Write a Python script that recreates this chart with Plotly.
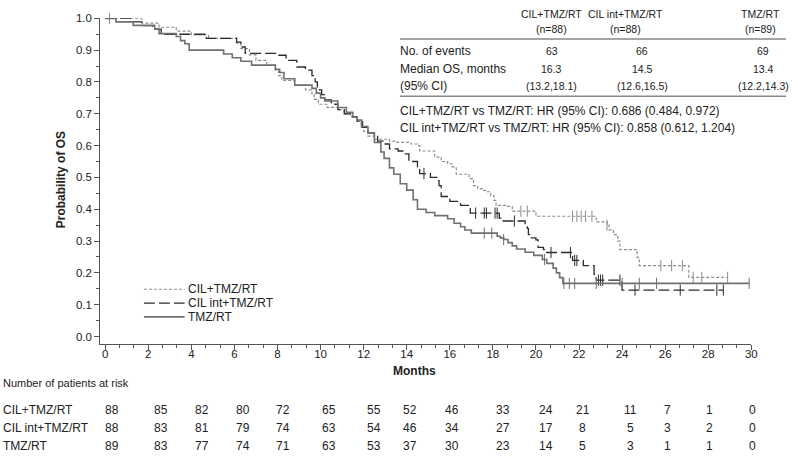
import numpy as np
import plotly.graph_objects as go

W, H = 798, 457

# Kaplan-Meier steps: month of step, survival after step
cil_t = [0, 1.7, 2.5, 3.3, 4.0, 4.8, 6.1, 6.3, 6.7, 7.0, 7.5, 7.9, 8.05, 8.2, 8.8, 9.3, 9.6, 9.7, 9.9,
         10.3, 10.8, 11.1, 11.4, 11.7, 11.9, 12.0, 12.2, 12.5, 13.2, 13.5, 14.2, 14.5, 14.6, 15.3, 15.6,
         15.9, 16.1, 16.3, 16.9, 17.1, 17.3, 17.5, 17.7, 17.9, 18.05, 18.15, 18.6, 18.9, 20.0, 22.8,
         23.3, 23.4, 23.6, 23.8, 23.9, 24.7, 24.8, 27.1, 28.9]
cil_s = [1.0, 0.985, 0.972, 0.96, 0.948, 0.937, 0.922, 0.905, 0.885, 0.868, 0.852, 0.837, 0.82, 0.805,
         0.79, 0.775, 0.76, 0.745, 0.73, 0.72, 0.713, 0.70, 0.69, 0.676, 0.657, 0.645, 0.63, 0.62, 0.614,
         0.61, 0.605, 0.60, 0.583, 0.564, 0.55, 0.543, 0.533, 0.51, 0.496, 0.474, 0.465, 0.459, 0.455,
         0.443, 0.428, 0.412, 0.409, 0.394, 0.378, 0.36, 0.35, 0.335, 0.32, 0.30, 0.273, 0.248, 0.223,
         0.186, 0.186]
cil_cens = [0.2, 19.3, 19.6, 21.7, 21.9, 22.1, 22.3, 22.6, 23.3, 25.8, 26.3, 26.8, 27.3, 27.7, 28.9]

int_t = [0, 1.2, 1.7, 2.2, 2.6, 4.7, 6.1, 6.3, 6.5, 8.0, 8.4, 8.9, 9.3, 9.6, 9.75, 9.85, 9.95, 10.05,
         10.2, 10.5, 10.8, 11.1, 11.4, 11.7, 11.95, 12.2, 12.5, 12.65, 12.9, 13.2, 13.6, 13.9, 14.1,
         14.5, 14.6, 15.1, 15.4, 15.5, 15.6, 16.0, 16.5, 16.9, 16.95, 18.3, 18.4, 19.5, 19.6, 19.65,
         19.7, 20.0, 20.1, 20.35, 20.5, 21.7, 22.2, 22.7, 22.8, 24.0, 28.7]
int_s = [1.0, 0.989, 0.977, 0.966, 0.95, 0.937, 0.925, 0.91, 0.89, 0.884, 0.868, 0.847, 0.837, 0.82,
         0.80, 0.785, 0.775, 0.76, 0.744, 0.73, 0.713, 0.70, 0.69, 0.676, 0.657, 0.64, 0.63, 0.614,
         0.605, 0.59, 0.583, 0.574, 0.55, 0.533, 0.512, 0.50, 0.49, 0.474, 0.44, 0.425, 0.412, 0.403,
         0.388, 0.372, 0.363, 0.35, 0.34, 0.32, 0.31, 0.304, 0.28, 0.273, 0.264, 0.239, 0.223, 0.195,
         0.177, 0.146, 0.146]
int_cens = [14.8, 17.2, 17.6, 17.7, 18.1, 18.2, 19.0, 20.7, 21.6, 21.8, 21.9, 22.9, 23.0, 23.1, 23.9,
            24.6, 26.7, 28.4, 28.7]

tmz_t = [0, 0.5, 1.3, 2.3, 2.5, 3.3, 3.5, 3.7, 3.9, 5.5, 5.9, 6.3, 6.8, 7.9, 8.1, 8.3, 8.8, 9.6, 9.8,
         10.0, 10.2, 10.8, 11.2, 11.5, 11.7, 11.9, 12.2, 12.5, 12.8, 12.95, 13.2, 13.4, 13.7, 14.0,
         14.3, 14.5, 14.9, 15.3, 15.9, 16.2, 16.5, 16.7, 17.0, 18.2, 18.35, 18.5, 18.7, 18.9, 19.1,
         19.5, 19.9, 20.3, 20.5, 20.8, 20.95, 21.1, 21.25, 29.9]
tmz_s = [1.0, 0.989, 0.978, 0.966, 0.952, 0.943, 0.93, 0.92, 0.90, 0.888, 0.876, 0.865, 0.853, 0.84,
         0.83, 0.81, 0.79, 0.78, 0.765, 0.75, 0.74, 0.72, 0.705, 0.69, 0.68, 0.66, 0.64, 0.61, 0.58,
         0.56, 0.53, 0.51, 0.48, 0.46, 0.43, 0.40, 0.39, 0.38, 0.37, 0.356, 0.345, 0.335, 0.325, 0.315,
         0.31, 0.305, 0.295, 0.285, 0.275, 0.265, 0.255, 0.242, 0.23, 0.215, 0.20, 0.185, 0.167, 0.167]
tmz_cens = [17.6, 17.95, 18.5, 20.4, 21.3, 21.55, 21.8, 22.8, 24.0, 24.8, 25.6, 29.9]

groups = ['CIL+TMZ/RT', 'CIL int+TMZ/RT', 'TMZ/RT']
n_pat = [88, 88, 89]
n_events = ['63', '66', '69']
median_os = ['16.3', '14.5', '13.4']
median_ci = ['(13.2,18.1)', '(12.6,16.5)', '(12.2,14.3)']
hr_lines = ['CIL+TMZ/RT vs TMZ/RT: HR (95% CI): 0.686 (0.484, 0.972)',
            'CIL int+TMZ/RT vs TMZ/RT: HR (95% CI): 0.858 (0.612, 1.204)']

risk_months = list(range(0, 31, 2))
risk_cil = [88, 85, 82, 80, 72, 65, 55, 52, 46, 33, 24, 21, 11, 7, 1, 0]
risk_int = [88, 83, 81, 79, 74, 63, 54, 46, 34, 27, 17, 8, 5, 3, 2, 0]
risk_tmz = [89, 83, 77, 74, 71, 63, 53, 37, 30, 23, 14, 5, 3, 1, 1, 0]

for a, b in [(cil_t, cil_s), (int_t, int_s), (tmz_t, tmz_s)]:
    assert len(a) == len(b)

# layout helpers (pixel -> paper)
def px(x):
    return x / W

def py(y):
    return 1 - y / H

FONT = 'Liberation Sans, Arial, sans-serif'
TXT = '#222222'

styles = [
    dict(color='#8c8c8c', width=1.2, dash='3px,2px'),
    dict(color='#2b2b2b', width=1.3, dash='11px,4px'),
    dict(color='#707070', width=1.6, dash='solid'),
]

fig = go.Figure()

curves = [(cil_t, cil_s, cil_cens), (int_t, int_s, int_cens), (tmz_t, tmz_s, tmz_cens)]
for (t, s, c), name, st in zip(curves, groups, styles):
    fig.add_trace(go.Scatter(x=t, y=s, mode='lines', line=dict(shape='hv', **st),
                             name=name, showlegend=False, cliponaxis=False))
    idx = np.searchsorted(t, c, side='right') - 1
    cy = np.array(s)[idx]
    fig.add_trace(go.Scatter(x=c, y=cy, mode='markers', showlegend=False, cliponaxis=False,
                             marker=dict(symbol='line-ns', size=8,
                                         line=dict(width=1, color=st['color']))))

fig.update_layout(
    width=W, height=H,
    margin=dict(l=0, r=0, t=0, b=0),
    paper_bgcolor='white', plot_bgcolor='white',
    font=dict(family=FONT, size=12, color=TXT),
    xaxis=dict(domain=[px(101), px(757)], range=[-0.23, 30], showgrid=False, zeroline=False,
               showline=True, linecolor='#555555', linewidth=1,
               tickmode='array', tickvals=risk_months, ticks='outside', ticklen=5,
               tickcolor='#555555', tickfont=dict(size=11.5, color=TXT), ticklabelstandoff=-5,
               minor=dict(dtick=2 / 3, tick0=0, ticks='outside', ticklen=3, tickcolor='#555555')),
    yaxis=dict(domain=[py(342), py(12.5)], range=[-0.022, 1.0], showgrid=False, zeroline=False,
               showline=True, linecolor='#555555', linewidth=1,
               tickmode='array', tickvals=[i / 10 for i in range(11)],
               ticktext=['%.1f' % (i / 10) for i in range(11)],
               ticks='outside', ticklen=5, tickcolor='#555555', tickfont=dict(size=11.5, color=TXT),
               minor=dict(dtick=0.05, tick0=0, ticks='outside', ticklen=3, tickcolor='#555555')),
)

ann = []
shapes = []

def text(x, y, s, anchor='center', size=12, bold=False, angle=0):
    ann.append(dict(x=px(x), y=py(y), xref='paper', yref='paper', text='<b>%s</b>' % s if bold else s,
                    showarrow=False, xanchor=anchor, yanchor='middle', textangle=angle,
                    font=dict(size=size, color=TXT, family=FONT)))

text(61, 176, 'Probability of OS', bold=True, angle=-90)
text(418, 370, 'Months', bold=True)

# legend
leg_y = [287, 301, 315]
for yy, name, st in zip(leg_y, groups, styles):
    shapes.append(dict(type='line', xref='paper', yref='paper', x0=px(145), x1=px(186),
                       y0=py(yy), y1=py(yy), line=st))
    text(187, yy, name, anchor='left')

# summary table top right
col_hdr = [556, 630, 766]
col_val = [556, 647, 769]
for xh, xv, g, n, e, m, ci in zip(col_hdr, col_val, groups, n_pat, n_events, median_os, median_ci):
    text(xh, 8, g, size=10.5)
    text(xh, 23, '(n=%d)' % n, size=10.5)
    text(xv, 46, e, size=10.5)
    text(xv, 64, m, size=10.5)
    text(xv, 81, ci, size=10.5)
for yy, lab in zip([46, 64, 81], ['No. of events', 'Median OS, months', '(95% CI)']):
    text(401, yy, lab, anchor='left')
for yy in [33.5, 91.5]:
    shapes.append(dict(type='line', xref='paper', yref='paper', x0=px(403), x1=px(792),
                       y0=py(yy), y1=py(yy), line=dict(color='#888888', width=1.5)))
text(401, 106, hr_lines[0], anchor='left')
text(401, 124, hr_lines[1], anchor='left')

# number at risk table
risk_col_px = [113, 162, 204, 245, 285, 331, 377, 413, 455, 507, 550, 587, 635, 673, 715, 758]
text(1, 382, 'Number of patients at risk', anchor='left', size=11)
for yy, g, row in zip([409, 428, 446], groups, [risk_cil, risk_int, risk_tmz]):
    text(1, yy, g, anchor='left')
    for xx, v in zip(risk_col_px, row):
        text(xx, yy, str(v))

fig.update_layout(annotations=ann, shapes=shapes)
# drop the default page margin so the figure sits at the window's top-left corner
fig.write_html('out.html', config={'displayModeBar': False},
               post_script="document.body.style.margin='0';")
